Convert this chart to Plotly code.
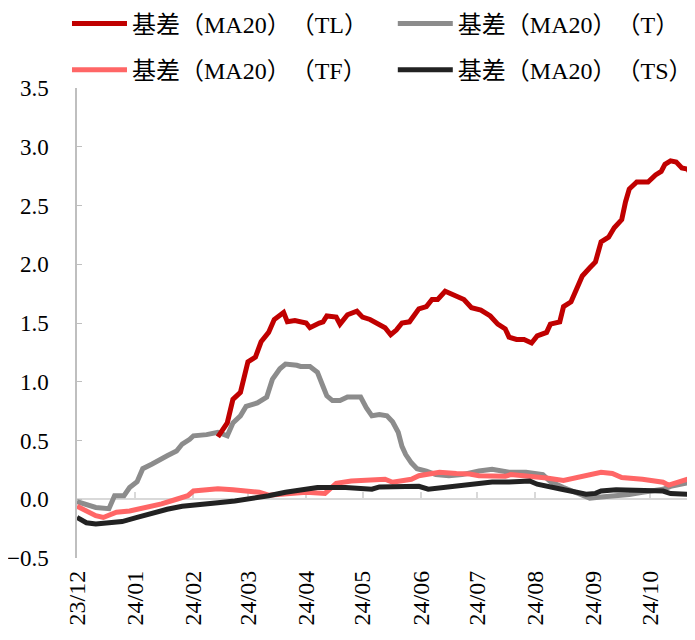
import plotly.graph_objects as go

# 基差（MA20）—— 各品种按日期读数
tl_dates = ["2024-02-14", "2024-02-19", "2024-02-22", "2024-02-26", "2024-03-01", "2024-03-05",
            "2024-03-08", "2024-03-12", "2024-03-15", "2024-03-20", "2024-03-22", "2024-03-26",
            "2024-04-01", "2024-04-03", "2024-04-08", "2024-04-10", "2024-04-12", "2024-04-17",
            "2024-04-19", "2024-04-23", "2024-04-28", "2024-05-01", "2024-05-05", "2024-05-09",
            "2024-05-13", "2024-05-16", "2024-05-19", "2024-05-22", "2024-05-26", "2024-05-31",
            "2024-06-04", "2024-06-07", "2024-06-10", "2024-06-14", "2024-06-20", "2024-06-24",
            "2024-06-28", "2024-07-03", "2024-07-08", "2024-07-12", "2024-07-16", "2024-07-18",
            "2024-07-22", "2024-07-26", "2024-07-30", "2024-08-02", "2024-08-07", "2024-08-09",
            "2024-08-14", "2024-08-16", "2024-08-20", "2024-08-23", "2024-08-26", "2024-08-30",
            "2024-09-02", "2024-09-05", "2024-09-09", "2024-09-12", "2024-09-16", "2024-09-18",
            "2024-09-20", "2024-09-24", "2024-09-30", "2024-10-04", "2024-10-07", "2024-10-09",
            "2024-10-12", "2024-10-15", "2024-10-18", "2024-10-21", "2024-10-24"]
tl_values = [0.53, 0.65, 0.85, 0.91, 1.17, 1.21,
             1.34, 1.42, 1.53, 1.59, 1.51, 1.52,
             1.50, 1.46, 1.50, 1.51, 1.56, 1.55,
             1.49, 1.57, 1.60, 1.55, 1.53, 1.50,
             1.46, 1.40, 1.44, 1.50, 1.51, 1.62,
             1.64, 1.70, 1.70, 1.77, 1.73, 1.70,
             1.63, 1.61, 1.56, 1.49, 1.45, 1.38,
             1.36, 1.36, 1.33, 1.39, 1.42, 1.49,
             1.51, 1.64, 1.68, 1.79, 1.90, 1.97,
             2.02, 2.19, 2.23, 2.31, 2.38, 2.53,
             2.64, 2.70, 2.70, 2.76, 2.79, 2.85,
             2.88, 2.87, 2.82, 2.81, 2.74]

t_dates = ["2023-12-01", "2023-12-06", "2023-12-11", "2023-12-18", "2023-12-21", "2023-12-26",
           "2023-12-29", "2024-01-02", "2024-01-05", "2024-01-10", "2024-01-12", "2024-01-18",
           "2024-01-23", "2024-01-26", "2024-01-30", "2024-02-01", "2024-02-08", "2024-02-14",
           "2024-02-19", "2024-02-22", "2024-02-26", "2024-02-29", "2024-03-04", "2024-03-06",
           "2024-03-11", "2024-03-14", "2024-03-18", "2024-03-21", "2024-03-27", "2024-03-29",
           "2024-04-03", "2024-04-07", "2024-04-10", "2024-04-12", "2024-04-15", "2024-04-19",
           "2024-04-23", "2024-04-30", "2024-05-03", "2024-05-06", "2024-05-10", "2024-05-14",
           "2024-05-17", "2024-05-20", "2024-05-22", "2024-05-24", "2024-05-27", "2024-05-30",
           "2024-06-04", "2024-06-09", "2024-06-16", "2024-06-23", "2024-07-02", "2024-07-09",
           "2024-07-18", "2024-07-27", "2024-08-05", "2024-08-09", "2024-08-16", "2024-08-26",
           "2024-08-30", "2024-09-05", "2024-09-13", "2024-09-20", "2024-09-27", "2024-10-08",
           "2024-10-12", "2024-10-20", "2024-10-24"]
t_values = [-0.02, -0.05, -0.07, -0.08, 0.03, 0.03,
            0.10, 0.15, 0.26, 0.30, 0.32, 0.37,
            0.41, 0.47, 0.51, 0.54, 0.55, 0.57,
            0.54, 0.65, 0.71, 0.79, 0.81, 0.82,
            0.87, 1.02, 1.11, 1.15, 1.14, 1.13,
            1.13, 1.08, 0.96, 0.88, 0.84, 0.84,
            0.87, 0.87, 0.78, 0.71, 0.72, 0.71,
            0.66, 0.57, 0.45, 0.38, 0.31, 0.26,
            0.24, 0.21, 0.20, 0.21, 0.24, 0.255,
            0.23, 0.23, 0.21, 0.15, 0.10, 0.04,
            0.01, 0.02, 0.025, 0.04, 0.06, 0.085,
            0.11, 0.14, 0.15]

tf_dates = ["2023-12-01", "2023-12-06", "2023-12-11", "2023-12-15", "2023-12-22", "2023-12-29",
            "2024-01-08", "2024-01-15", "2024-01-23", "2024-01-29", "2024-02-01", "2024-02-08",
            "2024-02-14", "2024-02-22", "2024-03-01", "2024-03-07", "2024-03-12", "2024-03-21",
            "2024-04-01", "2024-04-11", "2024-04-17", "2024-04-25", "2024-05-06", "2024-05-13",
            "2024-05-17", "2024-05-27", "2024-05-31", "2024-06-11", "2024-06-20", "2024-06-27",
            "2024-07-02", "2024-07-16", "2024-07-19", "2024-07-30", "2024-08-07", "2024-08-16",
            "2024-08-26", "2024-08-30", "2024-09-05", "2024-09-11", "2024-09-16", "2024-09-27",
            "2024-10-08", "2024-10-11", "2024-10-16", "2024-10-22", "2024-10-24"]
tf_values = [-0.06, -0.10, -0.14, -0.155, -0.11, -0.10,
             -0.07, -0.04, 0.00, 0.03, 0.07, 0.08,
             0.09, 0.08, 0.07, 0.06, 0.035, 0.05,
             0.06, 0.05, 0.135, 0.155, 0.16, 0.17,
             0.145, 0.17, 0.20, 0.23, 0.22, 0.215,
             0.20, 0.195, 0.21, 0.195, 0.18, 0.16,
             0.195, 0.20, 0.23, 0.22, 0.185, 0.17,
             0.145, 0.12, 0.145, 0.18, 0.185]

ts_dates = ["2023-12-01", "2023-12-06", "2023-12-11", "2023-12-18", "2023-12-25", "2024-01-02",
            "2024-01-09", "2024-01-18", "2024-01-26", "2024-02-02", "2024-02-14", "2024-02-23",
            "2024-03-01", "2024-03-12", "2024-03-21", "2024-04-01", "2024-04-07", "2024-04-22",
            "2024-05-06", "2024-05-10", "2024-05-31", "2024-06-05", "2024-06-23", "2024-07-02",
            "2024-07-09", "2024-07-18", "2024-07-29", "2024-08-02", "2024-08-08", "2024-08-15",
            "2024-08-23", "2024-08-28", "2024-09-02", "2024-09-05", "2024-09-13", "2024-09-27",
            "2024-10-08", "2024-10-12", "2024-10-24"]
ts_values = [-0.155, -0.20, -0.21, -0.205, -0.19, -0.155,
             -0.12, -0.085, -0.06, -0.045, -0.03, -0.015,
             0.00, 0.03, 0.06, 0.08, 0.10, 0.10,
             0.085, 0.105, 0.11, 0.085, 0.12, 0.135,
             0.147, 0.147, 0.155, 0.128, 0.113, 0.085,
             0.06, 0.043, 0.05, 0.07, 0.08, 0.08,
             0.07, 0.048, 0.04]

# \u200b keeps the browser from squeezing the full-width brackets against their neighbours
series_names = {"TL": "基差\u200b（MA20）\u200b（TL）", "T": "基差\u200b（MA20）\u200b（T）",
                "TF": "基差\u200b（MA20）\u200b（TF）", "TS": "基差\u200b（MA20）\u200b（TS）"}

x_range = ["2023-12-01", "2024-10-25"]
y_range = [-0.5, 3.5]

FONT = "Liberation Serif, Noto Sans CJK SC, serif"

fig = go.Figure()

# drawing order: T under TL, TS on top
fig.add_trace(go.Scatter(x=t_dates, y=t_values, mode="lines", name=series_names["T"],
                         line=dict(color="#8C8C8C", width=5), legend="legend2", legendgroup="t"))
fig.add_trace(go.Scatter(x=tl_dates, y=tl_values, mode="lines", name=series_names["TL"],
                         line=dict(color="#C00000", width=5), legend="legend", legendgroup="tl"))
fig.add_trace(go.Scatter(x=tf_dates, y=tf_values, mode="lines", name=series_names["TF"],
                         line=dict(color="#FF6666", width=5), legend="legend", legendgroup="tf"))
fig.add_trace(go.Scatter(x=ts_dates, y=ts_values, mode="lines", name=series_names["TS"],
                         line=dict(color="#222222", width=5), legend="legend2", legendgroup="ts"))
# empty trace so the zero-crossing axis (x2) gets drawn
fig.add_trace(go.Scatter(x=x_range[:1], y=[None], xaxis="x2", showlegend=False, hoverinfo="skip"))

legend_style = dict(yanchor="top", xanchor="left", y=1.184, bgcolor="rgba(0,0,0,0)",
                    font=dict(family=FONT, size=24, color="#000000"),
                    itemwidth=55, tracegroupgap=12, traceorder="grouped")

# the page body adds an 8px margin, so the figure is shifted 8px right and down
fig.update_layout(
    width=687, height=632,
    margin=dict(l=69, r=0, t=80, b=82, autoexpand=False),
    paper_bgcolor="white", plot_bgcolor="white",
    font=dict(family=FONT, size=23, color="#000000"),
    legend=dict(x=-0.0162, **legend_style),
    legend2=dict(x=0.511, **legend_style),
    xaxis=dict(type="date", range=x_range, tick0="2023-12-01", dtick="M1", tickformat="%y/%m",
               tickangle=-90, showgrid=False, showline=False, ticks="", zeroline=False,
               ticklabelstandoff=7, automargin=False, tickfont=dict(family=FONT, size=24)),
    xaxis2=dict(type="date", range=x_range, tick0="2023-12-01", dtick="M1", overlaying="x",
                anchor="free", position=(0 - y_range[0]) / (y_range[1] - y_range[0]),
                showticklabels=False, showgrid=False, showline=True, linecolor="#D9D9D9",
                linewidth=2, ticks="inside", ticklen=6, tickcolor="#D9D9D9", tickwidth=1.5,
                layer="below traces"),
    yaxis=dict(range=y_range, dtick=0.5, tickformat=".1f", showgrid=False, zeroline=False,
               showline=True, linecolor="#BFBFBF", linewidth=1.5, ticks="inside", ticklen=5,
               tickcolor="#BFBFBF", ticklabelstandoff=22, layer="below traces", automargin=False,
               tickfont=dict(family=FONT, size=23)),
)

fig.write_html("out.html")
